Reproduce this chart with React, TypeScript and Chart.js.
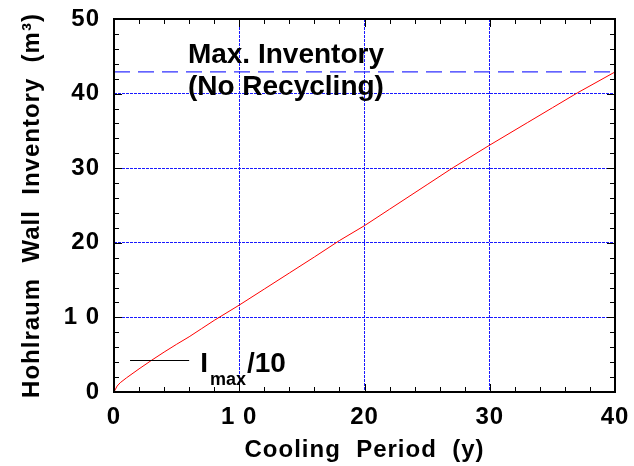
import React, { useEffect, useRef } from "react";
import { Chart, registerables } from "chart.js";

Chart.register(...registerables);

// ---- data ----
const coolingYears = [0, 0.25, 0.5, 1, 2, 3, 4, 5, 6, 7, 8, 10, 12, 14, 16, 18, 20, 22, 25, 27, 30, 33, 35, 37, 40];
const wallInventory = [0, 0.8, 1.25, 1.9, 3.1, 4.25, 5.35, 6.4, 7.4, 8.5, 9.6, 11.65, 13.8, 15.95, 18.1, 20.3, 22.3, 24.5, 27.8, 30.0, 33.1, 36.1, 38.1, 40.1, 42.9];
const maxInventoryYears = [0, 40];
const maxInventoryValues = [42.9, 42.9];
const xTickLabels = ["0", "1 0", "20", "30", "40"];
const yTickLabels = ["0", "1 0", "20", "30", "40", "50"];
const annotationLines = ["Max. Inventory", "(No Recycling)"];
const legendMain = "I";
const legendSub = "max";
const legendTail = "/10";
const xTitle = "Cooling  Period  (y)";
const yTitle = "Hohlraum  Wall  Inventory  (m³)";

const FONT = "'Liberation Sans', Arial, Helvetica, sans-serif";
const GRID_BLUE = "#1a1aff";

export default function App() {
  const ref = useRef<HTMLCanvasElement>(null);

  useEffect(() => {
    document.body.style.margin = "0";
    const canvas = ref.current!;

    const framePlugin = {
      id: "frameAndNotes",
      beforeDraw(chart: any) {
        (chart.ctx as any).letterSpacing = "1px";
      },
      afterDraw(chart: any) {
        const { ctx, chartArea: a, scales } = chart;
        const sx = scales.x;
        const sy = scales.y;
        ctx.save();
        (ctx as any).letterSpacing = "0px";
        // inner ticks on all four sides
        ctx.strokeStyle = "#000";
        ctx.lineWidth = 1;
        ctx.beginPath();
        sx.ticks.forEach((t: any) => {
          const px = Math.round(sx.getPixelForValue(t.value)) + 0.5;
          const len = Math.round(t.value) % 10 === 0 ? 8 : 5;
          ctx.moveTo(px, a.bottom);
          ctx.lineTo(px, a.bottom - len);
          ctx.moveTo(px, a.top);
          ctx.lineTo(px, a.top + len);
        });
        sy.ticks.forEach((t: any) => {
          const py = Math.round(sy.getPixelForValue(t.value)) + 0.5;
          const len = Math.round(t.value) % 10 === 0 ? 8 : 5;
          ctx.moveTo(a.left, py);
          ctx.lineTo(a.left + len, py);
          ctx.moveTo(a.right, py);
          ctx.lineTo(a.right - len, py);
        });
        ctx.stroke();
        // frame
        ctx.lineWidth = 2;
        ctx.strokeRect(a.left, a.top, a.right - a.left, a.bottom - a.top);

        // annotation
        ctx.fillStyle = "#000";
        ctx.textAlign = "left";
        ctx.textBaseline = "alphabetic";
        ctx.font = `bold 28px ${FONT}`;
        ctx.fillText(annotationLines[0], sx.getPixelForValue(5.9), sy.getPixelForValue(44.1));
        ctx.fillText(annotationLines[1], sx.getPixelForValue(5.9), sy.getPixelForValue(39.8));

        // legend
        const ly = Math.round(sy.getPixelForValue(4.3)) + 0.5;
        const lx0 = sx.getPixelForValue(1.28);
        const lx1 = sx.getPixelForValue(6.0);
        ctx.strokeStyle = "#000";
        ctx.lineWidth = 1;
        ctx.beginPath();
        ctx.moveTo(lx0, ly);
        ctx.lineTo(lx1, ly);
        ctx.stroke();
        let tx = lx1 + 11;
        ctx.font = `bold 28px ${FONT}`;
        ctx.fillText(legendMain, tx, ly + 11.5);
        tx += ctx.measureText(legendMain).width + 2;
        ctx.font = `bold 18px ${FONT}`;
        ctx.fillText(legendSub, tx, ly + 24);
        tx += ctx.measureText(legendSub).width + 1;
        ctx.font = `bold 28px ${FONT}`;
        ctx.fillText(legendTail, tx, ly + 11.5);
        ctx.restore();
      },
    };

    const tickFont = { family: FONT, size: 24, weight: "bold" as const };

    const isMajor = (v: number, max: number) => {
      const r = Math.round(v);
      return Math.abs(v - r) < 1e-6 && r > 0 && r < max && r % 10 === 0;
    };

    const chart = new Chart(canvas, {
      type: "line",
      data: {
        datasets: [
          {
            data: coolingYears.map((x, i) => ({ x, y: wallInventory[i] })),
            borderColor: "#ff0000",
            borderWidth: 1,
            pointRadius: 0,
            tension: 0,
            fill: false,
          },
          {
            data: maxInventoryYears.map((x, i) => ({ x, y: maxInventoryValues[i] })),
            borderColor: "#3030ff",
            borderWidth: 1.3,
            borderDash: [16, 8],
            pointRadius: 0,
            fill: false,
          },
        ],
      },
      options: {
        responsive: false,
        animation: false,
        layout: { padding: { left: 0, right: 19, top: 19, bottom: 0 } },
        plugins: { legend: { display: false }, tooltip: { enabled: false } },
        scales: {
          x: {
            type: "linear",
            min: 0,
            max: 40,
            afterFit(s: any) {
              s.height = 74;
              s.paddingLeft = 0;
              s.paddingRight = 0;
            },
            ticks: {
              stepSize: 2,
              autoSkip: false,
              maxRotation: 0,
              minRotation: 0,
              padding: 11,
              color: "#000",
              font: tickFont,
              callback: (v: any) => {
                const r = Math.round(Number(v));
                return r % 10 === 0 ? xTickLabels[r / 10] : "";
              },
            },
            grid: {
              drawTicks: false,
              lineWidth: 1,
              color: (c: any) => (isMajor(c.tick?.value, 40) ? GRID_BLUE : "rgba(0,0,0,0)"),
            },
            border: { display: false, dash: [3, 1] },
            title: {
              display: true,
              text: xTitle,
              color: "#000",
              font: tickFont,
              padding: { top: 0, bottom: 1 },
            },
          },
          y: {
            type: "linear",
            min: 0,
            max: 50,
            afterFit(s: any) {
              s.width = 114;
              s.paddingTop = 0;
              s.paddingBottom = 0;
            },
            ticks: {
              stepSize: 2,
              autoSkip: false,
              padding: 14,
              color: "#000",
              font: tickFont,
              callback: (v: any) => {
                const r = Math.round(Number(v));
                return r % 10 === 0 ? yTickLabels[r / 10] : "";
              },
            },
            grid: {
              drawTicks: false,
              lineWidth: 1,
              color: (c: any) => (isMajor(c.tick?.value, 50) ? GRID_BLUE : "rgba(0,0,0,0)"),
            },
            border: { display: false, dash: [3, 1] },
            title: {
              display: true,
              text: yTitle,
              color: "#000",
              font: tickFont,
              padding: { top: 17.6, bottom: 0 },
            },
          },
        },
      },
      plugins: [framePlugin],
    });

    return () => chart.destroy();
  }, []);

  return (
    <div style={{ width: 634, height: 466, background: "#fff" }}>
      <canvas ref={ref} width={634} height={466} style={{ display: "block" }} />
    </div>
  );
}
